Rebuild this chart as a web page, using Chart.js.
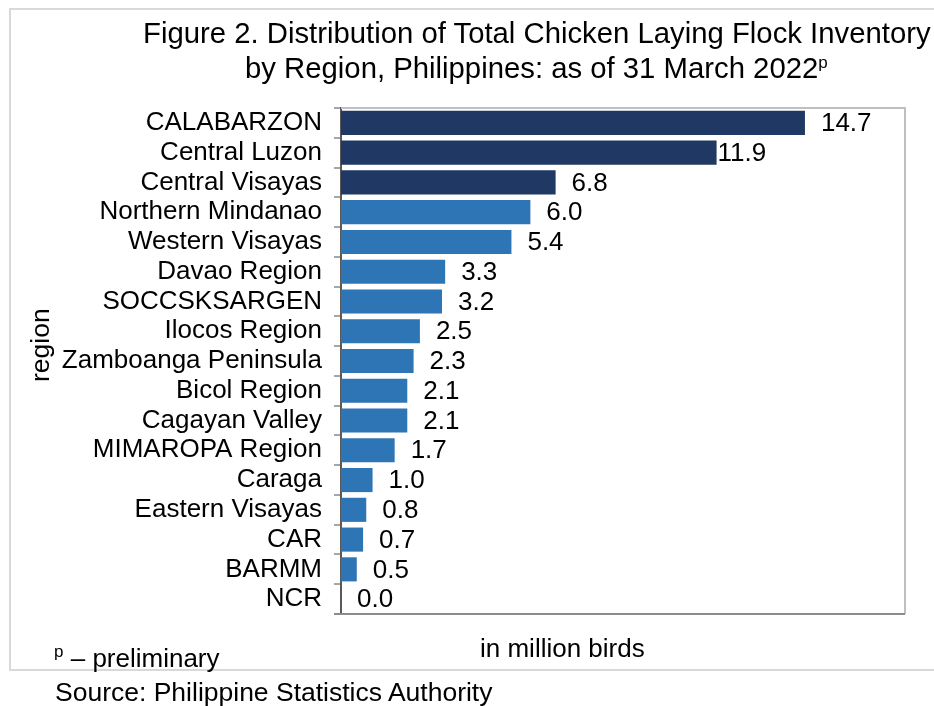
<!DOCTYPE html>
<html>
<head>
<meta charset="utf-8">
<script src="https://cdn.jsdelivr.net/npm/chart.js@4/dist/chart.umd.min.js"></script>
<style>
  body { margin: 0; background: #fff; }
  #wrap { position: relative; width: 934px; height: 706px; overflow: hidden; font-family: "Liberation Sans", Arial, sans-serif; color: #000; }
  #frame { position: absolute; left: 9px; top: 8px; width: 960px; height: 659px; border: 2px solid #d9d9d9; border-right: none; }
  canvas { position: absolute; left: 0; top: 0; }
  .t { position: absolute; line-height: 0; white-space: nowrap; }
</style>
</head>
<body>
<div id="wrap">
  <div id="frame"></div>
  <canvas id="barChart" width="934" height="706"></canvas>
  <div class="t" style="left:143px; top:33px; font-size:29.3px;">Figure 2. Distribution of Total Chicken Laying Flock Inventory</div>
  <div class="t" style="left:245px; top:68px; font-size:29.3px;">by Region, Philippines: as of 31 March 2022<span style="font-size:17px; position:relative; top:-10px;">p</span></div>
  <div class="t" style="left:480px; top:648px; font-size:26px;">in million birds</div>
  <div class="t" style="left:54px; top:658px; font-size:26px;"><span style="font-size:17px; position:relative; top:-10px;">p</span> – preliminary</div>
  <div class="t" style="left:55px; top:692px; font-size:26.5px;">Source: Philippine Statistics Authority</div>
  <div class="t" style="left:40px; top:382px; font-size:26.5px; transform-origin:0 0; transform:rotate(-90deg);">region</div>
</div>
<script>
const regions = [
  "CALABARZON", "Central Luzon", "Central Visayas", "Northern Mindanao",
  "Western Visayas", "Davao Region", "SOCCSKSARGEN", "Ilocos Region",
  "Zamboanga Peninsula", "Bicol Region", "Cagayan Valley", "MIMAROPA Region",
  "Caraga", "Eastern Visayas", "CAR", "BARMM", "NCR"
];
const flock = [14.7, 11.9, 6.8, 6.0, 5.4, 3.3, 3.2, 2.5, 2.3, 2.1, 2.1, 1.7, 1.0, 0.8, 0.7, 0.5, 0.0];

const darkBlue = "#203864";
const midBlue = "#2e75b6";

// plot border + value labels
const chartDecor = {
  id: "chartDecor",
  afterDatasetsDraw(chart) {
    const { ctx, chartArea: a } = chart;
    ctx.save();
    ctx.lineWidth = 2;
    ctx.strokeStyle = "#bfbfbf";
    ctx.beginPath();
    ctx.moveTo(a.left, a.top);
    ctx.lineTo(a.right, a.top);
    ctx.lineTo(a.right, a.bottom);
    ctx.stroke();
    ctx.strokeStyle = "#8c8c8c";
    ctx.beginPath();
    ctx.moveTo(a.left - 7, a.bottom);
    ctx.lineTo(a.right, a.bottom);
    ctx.stroke();

    ctx.font = "26px 'Liberation Sans'";
    ctx.fillStyle = "#000";
    ctx.textBaseline = "middle";
    chart.getDatasetMeta(0).data.forEach((bar, i) => {
      const dx = i === 1 ? 1 : 16;
      ctx.fillText(flock[i].toFixed(1), bar.x + dx, bar.y + 1);
    });
    ctx.restore();
  }
};

const ctx = document.getElementById("barChart");
new Chart(ctx, {
  type: "bar",
  data: {
    labels: regions,
    datasets: [{
      data: flock,
      backgroundColor: regions.map((r, i) => (i < 3 ? darkBlue : midBlue)),
      barPercentage: 0.81,
      categoryPercentage: 1
    }]
  },
  options: {
    indexAxis: "y",
    responsive: false,
    animation: false,
    layout: { padding: { left: 0, top: 108, right: 29, bottom: 92 } },
    plugins: { legend: { display: false }, tooltip: { enabled: false } },
    scales: {
      x: { display: false, min: 0, max: 17.87 },
      y: {
        ticks: { color: "#000", font: { family: "Liberation Sans", size: 26 }, padding: 12, autoSkip: false },
        grid: { display: true, drawOnChartArea: false, tickLength: 7, color: "#a6a6a6", lineWidth: 2, offset: true },
        border: { color: "#595959", width: 2 },
        afterFit(s) { s.width = 341; }
      }
    }
  },
  plugins: [chartDecor]
});
</script>
</body>
</html>
